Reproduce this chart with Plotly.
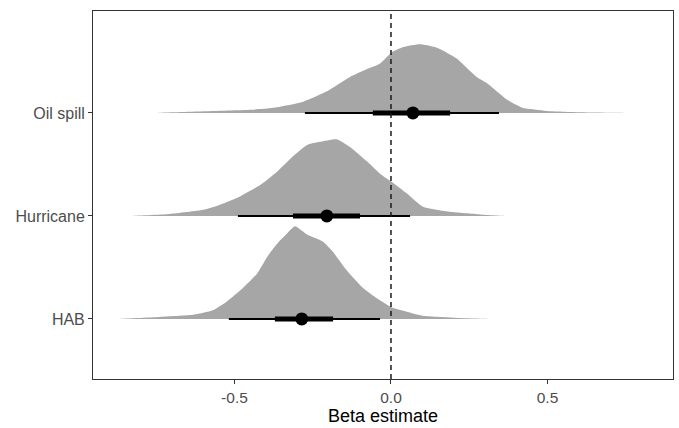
import plotly.graph_objects as go

categories = ["HAB", "Hurricane", "Oil spill"]

# Density profiles (x = beta, h = scaled slab height in category units)
hab_x = [-0.872, -0.738, -0.633, -0.569, -0.524, -0.473, -0.428, -0.396, -0.364, -0.332, -0.307,
         -0.268, -0.217, -0.185, -0.141, -0.089, -0.045, 0.003, 0.05, 0.102, 0.21, 0.326]
hab_h = [0.0, 0.02, 0.04, 0.085, 0.17, 0.30, 0.44, 0.60, 0.73, 0.83, 0.90,
         0.82, 0.75, 0.65, 0.47, 0.30, 0.20, 0.11, 0.07, 0.03, 0.01, 0.0]

hur_x = [-0.83, -0.706, -0.60, -0.546, -0.482, -0.418, -0.364, -0.313, -0.268, -0.227, -0.173,
         -0.131, -0.077, -0.035, 0.003, 0.05, 0.102, 0.189, 0.284, 0.37]
hur_h = [0.0, 0.02, 0.06, 0.11, 0.19, 0.30, 0.43, 0.58, 0.69, 0.72, 0.745,
         0.67, 0.53, 0.41, 0.33, 0.22, 0.09, 0.04, 0.015, 0.0]

oil_x = [-0.744, -0.45, -0.377, -0.28, -0.205, -0.131, -0.089, -0.035, 0.003, 0.04, 0.093,
         0.147, 0.21, 0.274, 0.306, 0.37, 0.42, 0.497, 0.60, 0.786]
oil_h = [0.0, 0.03, 0.05, 0.11, 0.21, 0.35, 0.41, 0.48, 0.59, 0.64, 0.667,
         0.634, 0.53, 0.35, 0.29, 0.13, 0.05, 0.02, 0.008, 0.0]

# Point estimates and intervals
medians = [-0.285, -0.205, 0.07]
thick_lo = [-0.371, -0.313, -0.058]
thick_hi = [-0.185, -0.099, 0.189]
thin_lo = [-0.518, -0.489, -0.275]
thin_hi = [-0.035, 0.061, 0.345]

x_ticks = [-0.5, 0.0, 0.5]
x_tick_labels = ["-0.5", "0.0", "0.5"]

slabs = [(hab_x, hab_h), (hur_x, hur_h), (oil_x, oil_h)]

fig = go.Figure()
SLAB = "#a6a6a6"
for i, (xs, hs) in enumerate(slabs):
    base = i + 1
    px = list(xs) + list(reversed(xs))
    py = [base + h for h in hs] + [base] * len(xs)
    fig.add_trace(go.Scatter(x=px, y=py, fill="toself", fillcolor=SLAB,
                             line=dict(color=SLAB, width=0, shape="spline", smoothing=0.5),
                             mode="lines", hoverinfo="skip", showlegend=False))

for i in range(len(categories)):
    base = i + 1
    fig.add_trace(go.Scatter(x=[thin_lo[i], thin_hi[i]], y=[base, base], mode="lines",
                             line=dict(color="black", width=2), showlegend=False))
    fig.add_trace(go.Scatter(x=[thick_lo[i], thick_hi[i]], y=[base, base], mode="lines",
                             line=dict(color="black", width=5), showlegend=False))
    fig.add_trace(go.Scatter(x=[medians[i]], y=[base], mode="markers",
                             marker=dict(color="black", size=13), showlegend=False))

fig.add_shape(type="line", x0=0, x1=0, y0=0, y1=1, xref="x", yref="paper",
              line=dict(color="#1a1a1a", width=1.5, dash="5px,4px"))

fig.update_layout(
    width=679, height=428,
    margin=dict(l=93, r=6, t=11, b=49),
    plot_bgcolor="white", paper_bgcolor="white",
    font=dict(family="Liberation Sans, Arial, sans-serif"),
    showlegend=False,
)
fig.update_xaxes(range=[-0.952, 0.901], tickvals=x_ticks, ticktext=x_tick_labels,
                 showgrid=False, zeroline=False, showline=True, mirror=True,
                 linecolor="#333333", linewidth=1, ticks="outside", ticklen=4,
                 tickcolor="#333333", tickfont=dict(size=15.5, color="#4d4d4d"),
                 title=dict(text="Beta estimate", font=dict(size=18, color="black"), standoff=2))
fig.update_yaxes(range=[0.417, 3.99], tickvals=[1, 2, 3], ticktext=categories,
                 showgrid=False, zeroline=False, showline=True, mirror=True,
                 linecolor="#333333", linewidth=1, ticks="outside", ticklen=4,
                 tickcolor="#333333", tickfont=dict(size=16, color="#4d4d4d"))

fig.write_html("out.html", config={"displayModeBar": False},
               post_script="document.body.style.margin='0';document.body.style.padding='0';")
